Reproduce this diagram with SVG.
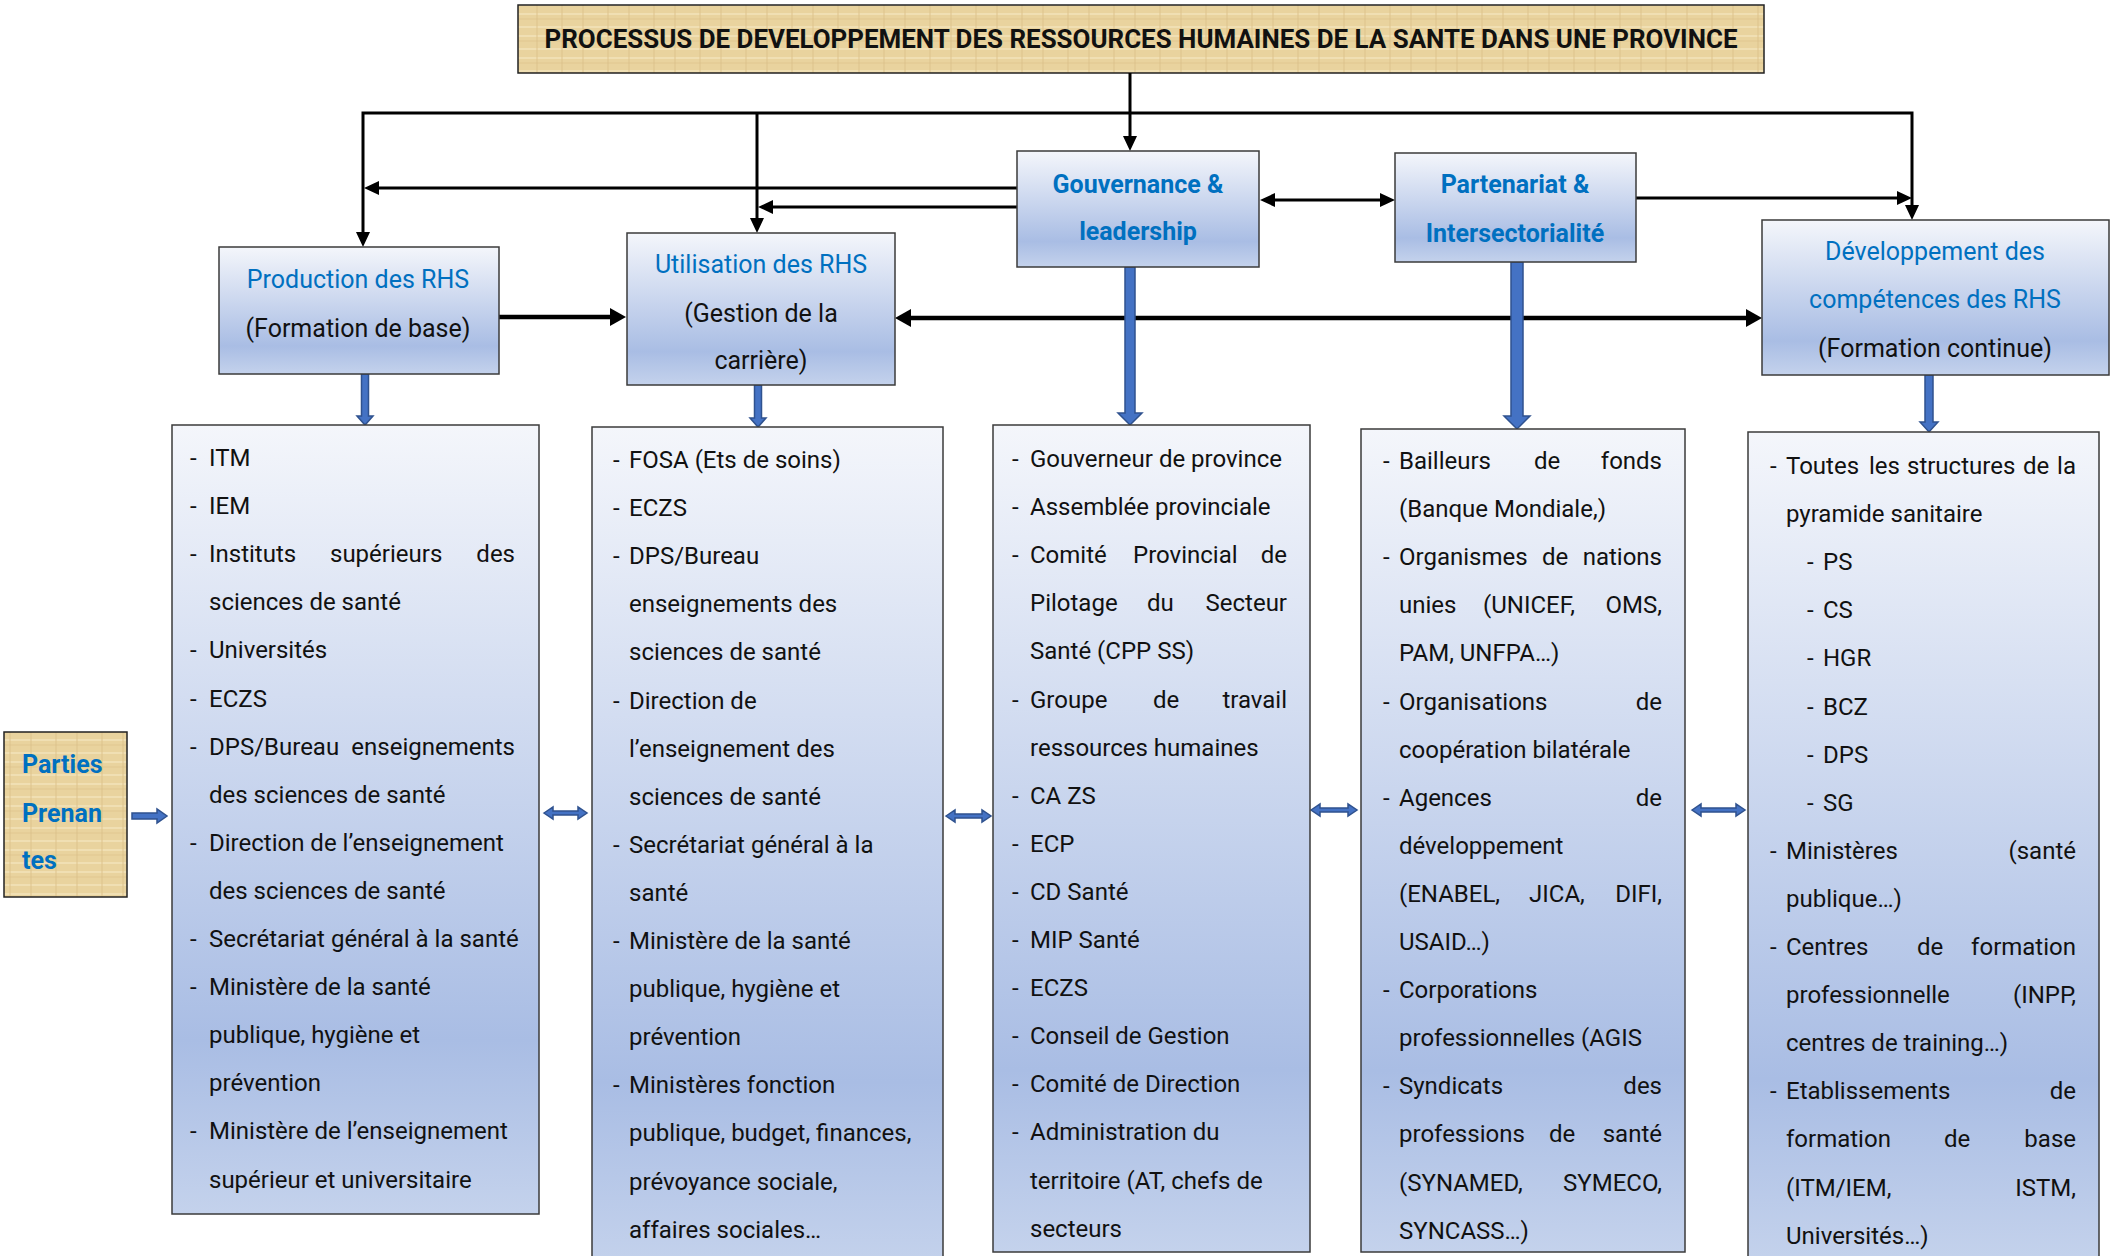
<svg xmlns="http://www.w3.org/2000/svg" width="2111" height="1256" viewBox="0 0 2111 1256">
<defs>
<linearGradient id="g" x1="0" y1="0" x2="0" y2="1">
<stop offset="0" stop-color="#F4F6FB"/>
<stop offset="0.78" stop-color="#A9BDE4"/>
<stop offset="1" stop-color="#C4D2EC"/>
</linearGradient>
<pattern id="pap" width="46" height="22" patternUnits="userSpaceOnUse">
<rect width="46" height="22" fill="#E9D39E"/>
<path d="M0,5 H46 M0,14 H46" stroke="#F2E2B8" stroke-width="2" opacity="0.8"/>
<path d="M10,0 V22 M31,0 V22" stroke="#DCC189" stroke-width="1.5" opacity="0.6"/>
<path d="M0,19 H46" stroke="#D8BC82" stroke-width="1" opacity="0.5"/>
</pattern>
<marker id="a" viewBox="0 0 15 14" refX="3" refY="7" markerWidth="15" markerHeight="14" markerUnits="userSpaceOnUse" orient="auto-start-reverse"><path d="M0,0 L15,7 L0,14 z" fill="#000"/></marker>
<marker id="ab" viewBox="0 0 16 18" refX="3" refY="9" markerWidth="16" markerHeight="18" markerUnits="userSpaceOnUse" orient="auto-start-reverse"><path d="M0,0 L16,9 L0,18 z" fill="#000"/></marker>
<style>
.box{fill:url(#g);stroke:#3b3b3b;stroke-width:1.5}
.pap{fill:url(#pap);stroke:#222;stroke-width:1.5}
.t{font-family:Roboto,"Liberation Sans",sans-serif;font-size:24px;fill:#111}
.e{text-anchor:end}
.h{font-family:Roboto,"Liberation Sans",sans-serif;font-size:25px;text-anchor:middle;fill:#111}
.hb{fill:#0070C0}
.bold{font-weight:bold}
.ln{fill:none;stroke:#000;stroke-width:3}
.lt{fill:none;stroke:#000;stroke-width:4.5}
.ba{fill:#4472C4;stroke:#2F528F;stroke-width:1.5}
</style>
</defs>

<g id="title">
<rect class="pap" x="518" y="5" width="1246" height="68"/>
<text x="1141" y="48" text-anchor="middle" font-family="Roboto,'Liberation Sans',sans-serif" font-weight="bold" font-size="26" fill="#111" textLength="1193" lengthAdjust="spacingAndGlyphs">PROCESSUS DE DEVELOPPEMENT DES RESSOURCES HUMAINES DE LA SANTE DANS UNE PROVINCE</text>
</g>

<g id="connectors">
<path class="ln" d="M1130,73 V139" marker-end="url(#a)"/>
<path class="ln" d="M363,235 V113 H1912 V208" marker-start="url(#a)" marker-end="url(#a)"/>
<path class="ln" d="M757,113 V221" marker-end="url(#a)"/>
<path class="ln" d="M1017,188 H376" marker-end="url(#a)"/>
<path class="ln" d="M1017,207 H770" marker-end="url(#a)"/>
<path class="ln" d="M1272,200 H1383" marker-start="url(#a)" marker-end="url(#a)"/>
<path class="ln" d="M1636,198 H1900" marker-end="url(#a)"/>
<path class="lt" d="M499,317 H613" marker-end="url(#ab)"/>
<path class="lt" d="M908,318 H1749" marker-start="url(#ab)" marker-end="url(#ab)"/>
<polygon class="ba" points="361.5,374 368.5,374 368.5,416 373,416 365,425 357,416 361.5,416"/>
<polygon class="ba" points="754.5,385 761.5,385 761.5,418 766,418 758,427 750,418 754.5,418"/>
<polygon class="ba" points="1125,267 1135,267 1135,413 1142,413 1130,425 1118,413 1125,413"/>
<polygon class="ba" points="1511,262 1523,262 1523,416 1530,416 1517,429 1504,416 1511,416"/>
<polygon class="ba" points="1925,375 1933,375 1933,422 1938,422 1929,432 1920,422 1925,422"/>
<polygon class="ba" points="132,813 157,813 157,809 167,816 157,823 157,819 132,819"/>
<polygon class="ba" points="544,813 553,807 553,811 578,811 578,807 587,813 578,819 578,815 553,815 553,819"/>
<polygon class="ba" points="946,816 955,810 955,814 982,814 982,810 991,816 982,822 982,818 955,818 955,822"/>
<polygon class="ba" points="1311,810 1320,804 1320,808 1348,808 1348,804 1357,810 1348,816 1348,812 1320,812 1320,816"/>
<polygon class="ba" points="1692,810 1701,804 1701,808 1736,808 1736,804 1745,810 1736,816 1736,812 1701,812 1701,816"/>
</g>

<g id="production">
<rect class="box" x="219" y="247" width="280" height="127"/>
<text class="h hb" x="358" y="288">Production des RHS</text>
<text class="h" x="358" y="337">(Formation de base)</text>
</g>

<g id="utilisation">
<rect class="box" x="627" y="233" width="268" height="152"/>
<text class="h hb" x="761" y="273">Utilisation des RHS</text>
<text class="h" x="761" y="322">(Gestion de la</text>
<text class="h" x="761" y="369">carrière)</text>
</g>

<g id="gouvernance">
<rect class="box" x="1017" y="151" width="242" height="116"/>
<text class="h hb bold" x="1138" y="193">Gouvernance &amp;</text>
<text class="h hb bold" x="1138" y="240">leadership</text>
</g>

<g id="partenariat">
<rect class="box" x="1395" y="153" width="241" height="109"/>
<text class="h hb bold" x="1515" y="193">Partenariat &amp;</text>
<text class="h hb bold" x="1515" y="242">Intersectorialité</text>
</g>

<g id="developpement">
<rect class="box" x="1762" y="220" width="347" height="155"/>
<text class="h hb" x="1935" y="260">Développement des</text>
<text class="h hb" x="1935" y="308">compétences des RHS</text>
<text class="h" x="1935" y="357">(Formation continue)</text>
</g>

<g id="parties">
<rect class="pap" x="4" y="732" width="123" height="165"/>
<text x="22" y="773" font-family="Roboto,'Liberation Sans',sans-serif" font-weight="bold" font-size="25" fill="#0070C0">Parties</text>
<text x="22" y="822" font-family="Roboto,'Liberation Sans',sans-serif" font-weight="bold" font-size="25" fill="#0070C0">Prenan</text>
<text x="22" y="869" font-family="Roboto,'Liberation Sans',sans-serif" font-weight="bold" font-size="25" fill="#0070C0">tes</text>
</g>

<g id="liste-production">
<rect class="box" x="172" y="425" width="367" height="789"/>
<text class="t" x="190" y="466">-</text><text class="t" x="209" y="466">ITM</text>
<text class="t" x="190" y="514">-</text><text class="t" x="209" y="514">IEM</text>
<text class="t" x="190" y="562">-</text><text class="t" x="209" y="562">Instituts</text><text class="t" x="330" y="562">supérieurs</text><text class="t e" x="515" y="562">des</text>
<text class="t" x="209" y="610">sciences de santé</text>
<text class="t" x="190" y="658">-</text><text class="t" x="209" y="658">Universités</text>
<text class="t" x="190" y="707">-</text><text class="t" x="209" y="707">ECZS</text>
<text class="t" x="190" y="755">-</text><text class="t" x="209" y="755">DPS/Bureau</text><text class="t e" x="515" y="755">enseignements</text>
<text class="t" x="209" y="803">des sciences de santé</text>
<text class="t" x="190" y="851">-</text><text class="t" x="209" y="851">Direction de l’enseignement</text>
<text class="t" x="209" y="899">des sciences de santé</text>
<text class="t" x="190" y="947">-</text><text class="t" x="209" y="947">Secrétariat général à la santé</text>
<text class="t" x="190" y="995">-</text><text class="t" x="209" y="995">Ministère de la santé</text>
<text class="t" x="209" y="1043">publique, hygiène et</text>
<text class="t" x="209" y="1091">prévention</text>
<text class="t" x="190" y="1139">-</text><text class="t" x="209" y="1139">Ministère de l’enseignement</text>
<text class="t" x="209" y="1188">supérieur et universitaire</text>
</g>

<g id="liste-utilisation">
<rect class="box" x="592" y="427" width="351" height="840"/>
<text class="t" x="613" y="468">-</text><text class="t" x="629" y="468">FOSA (Ets de soins)</text>
<text class="t" x="613" y="516">-</text><text class="t" x="629" y="516">ECZS</text>
<text class="t" x="613" y="564">-</text><text class="t" x="629" y="564">DPS/Bureau</text>
<text class="t" x="629" y="612">enseignements des</text>
<text class="t" x="629" y="660">sciences de santé</text>
<text class="t" x="613" y="709">-</text><text class="t" x="629" y="709">Direction de</text>
<text class="t" x="629" y="757">l’enseignement des</text>
<text class="t" x="629" y="805">sciences de santé</text>
<text class="t" x="613" y="853">-</text><text class="t" x="629" y="853">Secrétariat général à la</text>
<text class="t" x="629" y="901">santé</text>
<text class="t" x="613" y="949">-</text><text class="t" x="629" y="949">Ministère de la santé</text>
<text class="t" x="629" y="997">publique, hygiène et</text>
<text class="t" x="629" y="1045">prévention</text>
<text class="t" x="613" y="1093">-</text><text class="t" x="629" y="1093">Ministères fonction</text>
<text class="t" x="629" y="1141">publique, budget, finances,</text>
<text class="t" x="629" y="1190">prévoyance sociale,</text>
<text class="t" x="629" y="1238">affaires sociales…</text>
</g>

<g id="liste-gouvernance">
<rect class="box" x="993" y="425" width="317" height="827"/>
<text class="t" x="1012" y="467">-</text><text class="t" x="1030" y="467">Gouverneur de province</text>
<text class="t" x="1012" y="515">-</text><text class="t" x="1030" y="515">Assemblée provinciale</text>
<text class="t" x="1012" y="563">-</text><text class="t" x="1030" y="563">Comité</text><text class="t" x="1133" y="563">Provincial</text><text class="t e" x="1287" y="563">de</text>
<text class="t" x="1030" y="611">Pilotage</text><text class="t" x="1147" y="611">du</text><text class="t e" x="1287" y="611">Secteur</text>
<text class="t" x="1030" y="659">Santé (CPP SS)</text>
<text class="t" x="1012" y="708">-</text><text class="t" x="1030" y="708">Groupe</text><text class="t" x="1153" y="708">de</text><text class="t e" x="1287" y="708">travail</text>
<text class="t" x="1030" y="756">ressources humaines</text>
<text class="t" x="1012" y="804">-</text><text class="t" x="1030" y="804">CA ZS</text>
<text class="t" x="1012" y="852">-</text><text class="t" x="1030" y="852">ECP</text>
<text class="t" x="1012" y="900">-</text><text class="t" x="1030" y="900">CD Santé</text>
<text class="t" x="1012" y="948">-</text><text class="t" x="1030" y="948">MIP Santé</text>
<text class="t" x="1012" y="996">-</text><text class="t" x="1030" y="996">ECZS</text>
<text class="t" x="1012" y="1044">-</text><text class="t" x="1030" y="1044">Conseil de Gestion</text>
<text class="t" x="1012" y="1092">-</text><text class="t" x="1030" y="1092">Comité de Direction</text>
<text class="t" x="1012" y="1140">-</text><text class="t" x="1030" y="1140">Administration du</text>
<text class="t" x="1030" y="1189">territoire (AT, chefs de</text>
<text class="t" x="1030" y="1237">secteurs</text>
</g>

<g id="liste-partenariat">
<rect class="box" x="1361" y="429" width="324" height="823"/>
<text class="t" x="1383" y="469">-</text><text class="t" x="1399" y="469">Bailleurs</text><text class="t" x="1534" y="469">de</text><text class="t e" x="1662" y="469">fonds</text>
<text class="t" x="1399" y="517">(Banque Mondiale,)</text>
<text class="t" x="1383" y="565">-</text><text class="t" x="1399" y="565">Organismes</text><text class="t" x="1542" y="565">de</text><text class="t e" x="1662" y="565">nations</text>
<text class="t" x="1399" y="613">unies</text><text class="t" x="1483" y="613">(UNICEF,</text><text class="t e" x="1662" y="613">OMS,</text>
<text class="t" x="1399" y="661">PAM, UNFPA…)</text>
<text class="t" x="1383" y="710">-</text><text class="t" x="1399" y="710">Organisations</text><text class="t e" x="1662" y="710">de</text>
<text class="t" x="1399" y="758">coopération bilatérale</text>
<text class="t" x="1383" y="806">-</text><text class="t" x="1399" y="806">Agences</text><text class="t e" x="1662" y="806">de</text>
<text class="t" x="1399" y="854">développement</text>
<text class="t" x="1399" y="902">(ENABEL,</text><text class="t" x="1529" y="902">JICA,</text><text class="t e" x="1662" y="902">DIFI,</text>
<text class="t" x="1399" y="950">USAID…)</text>
<text class="t" x="1383" y="998">-</text><text class="t" x="1399" y="998">Corporations</text>
<text class="t" x="1399" y="1046">professionnelles (AGIS</text>
<text class="t" x="1383" y="1094">-</text><text class="t" x="1399" y="1094">Syndicats</text><text class="t e" x="1662" y="1094">des</text>
<text class="t" x="1399" y="1142">professions</text><text class="t" x="1549" y="1142">de</text><text class="t e" x="1662" y="1142">santé</text>
<text class="t" x="1399" y="1191">(SYNAMED,</text><text class="t e" x="1662" y="1191">SYMECO,</text>
<text class="t" x="1399" y="1239">SYNCASS…)</text>
</g>

<g id="liste-developpement">
<rect class="box" x="1748" y="432" width="351" height="830"/>
<text class="t" x="1770" y="474">-</text><text class="t" x="1786" y="474">Toutes</text><text class="t" x="1869" y="474">les</text><text class="t" x="1907" y="474">structures</text><text class="t" x="2023" y="474">de</text><text class="t e" x="2076" y="474">la</text>
<text class="t" x="1786" y="522">pyramide sanitaire</text>
<text class="t" x="1807" y="570">-</text><text class="t" x="1823" y="570">PS</text>
<text class="t" x="1807" y="618">-</text><text class="t" x="1823" y="618">CS</text>
<text class="t" x="1807" y="666">-</text><text class="t" x="1823" y="666">HGR</text>
<text class="t" x="1807" y="715">-</text><text class="t" x="1823" y="715">BCZ</text>
<text class="t" x="1807" y="763">-</text><text class="t" x="1823" y="763">DPS</text>
<text class="t" x="1807" y="811">-</text><text class="t" x="1823" y="811">SG</text>
<text class="t" x="1770" y="859">-</text><text class="t" x="1786" y="859">Ministères</text><text class="t e" x="2076" y="859">(santé</text>
<text class="t" x="1786" y="907">publique…)</text>
<text class="t" x="1770" y="955">-</text><text class="t" x="1786" y="955">Centres</text><text class="t" x="1917" y="955">de</text><text class="t e" x="2076" y="955">formation</text>
<text class="t" x="1786" y="1003">professionnelle</text><text class="t e" x="2076" y="1003">(INPP,</text>
<text class="t" x="1786" y="1051">centres de training…)</text>
<text class="t" x="1770" y="1099">-</text><text class="t" x="1786" y="1099">Etablissements</text><text class="t e" x="2076" y="1099">de</text>
<text class="t" x="1786" y="1147">formation</text><text class="t" x="1944" y="1147">de</text><text class="t e" x="2076" y="1147">base</text>
<text class="t" x="1786" y="1196">(ITM/IEM,</text><text class="t e" x="2076" y="1196">ISTM,</text>
<text class="t" x="1786" y="1244">Universités…)</text>
</g>
</svg>
